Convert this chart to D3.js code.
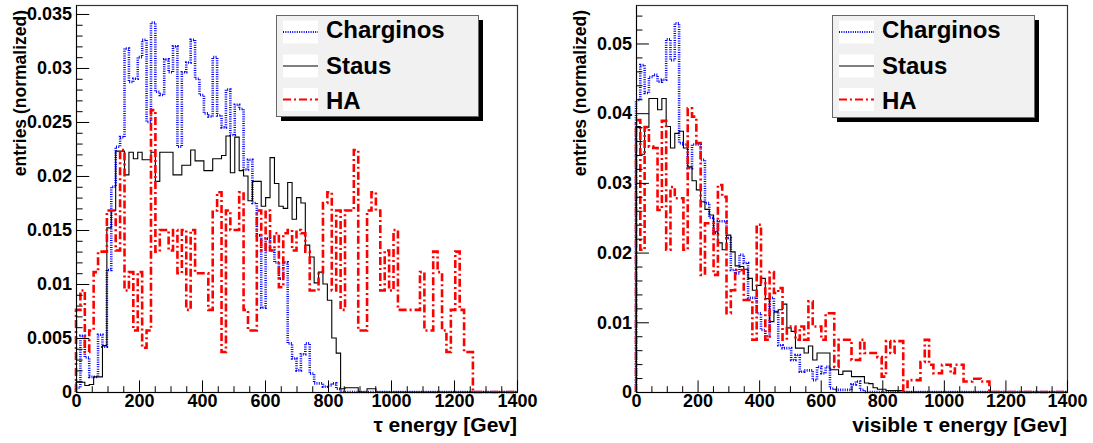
<!DOCTYPE html>
<meta charset="UTF-8">
<script src="https://d3js.org/d3.v7.min.js"></script>
<style>
body { margin: 0; background: #fff; }
text { font-family: "Liberation Sans", Arial, Helvetica, sans-serif; font-weight: bold; }
</style>
<body>
<div id="mysvg"></div>
<script>

// histogram binning: 100 bins of 14 GeV from 0 to 1400
var eMax = 1400;
var binWidth = 14;

var seriesNames = ["Charginos", "Staus", "HA"];

// tau energy (left pad)
var chargTau = [0.0004,0.0052,0.0032,0.0014,0.0014,0.0053,0.0042,0.0113,0.0190,0.0227,
  0.0236,0.0318,0.0287,0.0290,0.0310,0.0326,0.0250,0.0342,0.0278,0.0275,
  0.0308,0.0296,0.0320,0.0227,0.0296,0.0305,0.0326,0.0290,0.0275,0.0258,
  0.0255,0.0310,0.0256,0.0245,0.0280,0.0238,0.0266,0.0262,0.0206,0.0215,
  0.0175,0.0145,0.0078,0.0142,0.0131,0.0120,0.0105,0.0120,0.0045,0.0031,
  0.0020,0.0035,0.0045,0.0017,0.0008,0.0008,0.0005,0.0006,0.0008,0.0003,
  0,0,0,0,0,0,0,0,0,0, 0,0,0,0,0,0,0,0,0,0, 0,0,0,0,0,0,0,0,0,0, 0,0,0,0,0,0,0,0,0,0];
var stauTau = [0.0009,0.0009,0.0006,0.0007,0.0014,0.0014,0.0043,0.0152,0.0168,0.0223,
  0.0223,0.0201,0.0222,0.0216,0.0222,0.0215,0.0215,0.0222,0.0195,0.0222,
  0.0222,0.0222,0.0201,0.0201,0.0210,0.0210,0.0224,0.0214,0.0214,0.0205,
  0.0205,0.0216,0.0216,0.0219,0.0237,0.0203,0.0236,0.0205,0.0200,0.0177,
  0.0195,0.0195,0.0172,0.0180,0.0217,0.0193,0.0172,0.0170,0.0194,0.0160,
  0.0180,0.0175,0.0136,0.0125,0.0101,0.0111,0.0100,0.0085,0.0050,0.0036,
  0.0003,0.0004,0.0004,0.0004,0,0,0.0003,0.0003,0,0,
  0,0,0,0,0,0,0,0,0,0, 0,0,0,0,0,0,0,0,0,0, 0,0,0,0,0,0,0,0,0,0];
var haTau = [0.0076,0.0094,0.0037,0.0057,0.0111,0.0130,0.0130,0.0168,0.0168,0.0131,
  0.0224,0.0094,0.0111,0.0057,0.0111,0.0041,0.0057,0.0261,0.0130,0.0150,
  0.0150,0.0131,0.0150,0.0110,0.0150,0.0076,0.0150,0.0110,0.0110,0.0110,
  0.0076,0.0168,0.0185,0.0037,0.0168,0.0150,0.0150,0.0185,0.0076,0.0057,
  0.0057,0.0168,0.0131,0.0168,0.0131,0.0147,0.0097,0.0147,0.0150,0.0131,
  0.0150,0.0147,0.0130,0.0094,0.0094,0.0111,0.0175,0.0185,0.0094,0.0168,
  0.0076,0.0168,0.0168,0.0224,0.0057,0.0057,0.0168,0.0185,0.0168,0.0094,
  0.0131,0.0094,0.0150,0.0076,0.0076,0.0076,0.0076,0.0076,0.0111,0.0057,
  0.0057,0.0130,0.0111,0.0057,0.0037,0.0076,0.0130,0.0076,0.0037,0.0037,
  0,0,0,0,0,0,0,0,0,0];

// visible tau energy (right pad)
var chargVis = [0.0419,0.0469,0.0429,0.0452,0.0455,0.0445,0.0448,0.0506,0.0476,0.0529,
  0.0357,0.0355,0.0321,0.0355,0.0355,0.0333,0.0271,0.0250,0.0228,0.0245,
  0.0245,0.0221,0.0175,0.0170,0.0197,0.0185,0.0135,0.0135,0.0113,0.0089,
  0.0080,0.0135,0.0115,0.0067,0.0063,0.0063,0.0046,0.0053,0.0029,0.0031,
  0.0031,0.0017,0.0036,0.0027,0.0036,0.0005,0.0003,0.0003,0.0003,0.0003,
  0.0011,0.0015,0.0003,0,0,0,0,0,0,0,
  0,0,0,0,0,0,0,0,0,0, 0,0,0,0,0,0,0,0,0,0, 0,0,0,0,0,0,0,0,0,0, 0,0,0,0,0,0,0,0,0,0];
var stauVis = [0.0381,0.0341,0.0380,0.0421,0.0421,0.0405,0.0421,0.0381,0.0350,0.0371,
  0.0374,0.0350,0.0323,0.0303,0.0290,0.0273,0.0262,0.0254,0.0230,0.0214,
  0.0204,0.0225,0.0201,0.0181,0.0180,0.0176,0.0163,0.0146,0.0153,0.0163,
  0.0134,0.0101,0.0115,0.0118,0.0126,0.0092,0.0087,0.0063,0.0063,0.0056,
  0.0066,0.0046,0.0056,0.0056,0.0056,0.0032,0.0032,0.0025,0.0030,0.0030,
  0.0022,0.0022,0.0022,0.0013,0.0012,0.0006,0.0004,0.0004,0.0002,0.0002,
  0.0002,0.0002,0,0,0,0,0,0,0,0,
  0,0,0,0,0,0,0,0,0,0, 0,0,0,0,0,0,0,0,0,0, 0,0,0,0,0,0,0,0,0,0];
var haVis = [0.0390,0.0204,0.0380,0.0352,0.0350,0.0261,0.0389,0.0204,0.0294,0.0278,
  0.0278,0.0204,0.0407,0.0395,0.0357,0.0168,0.0242,0.0242,0.0168,0.0297,
  0.0280,0.0113,0.0146,0.0175,0.0175,0.0132,0.0132,0.0075,0.0240,0.0156,
  0.0075,0.0172,0.0142,0.0149,0.0075,0.0094,0.0094,0.0075,0.0094,0.0075,
  0.0130,0.0094,0.0094,0.0075,0.0113,0.0113,0.0036,0.0075,0.0075,0.0075,
  0.0046,0.0046,0.0075,0.0056,0.0056,0.0056,0.0050,0.0022,0.0073,0.0056,
  0.0073,0.0073,0,0.0017,0.0017,0.0017,0.0043,0.0075,0.0039,0.0027,
  0.0027,0.0039,0.0039,0.0027,0.0039,0.0039,0.0015,0.0015,0.0019,0.0019,
  0.0015,0.0015,0,0,0,0,0,0,0,0,
  0,0,0,0,0,0,0,0,0,0];

// axis ticks and labels
var xTicks = [0, 200, 400, 600, 800, 1000, 1200, 1400];
var yTicksTau = [0, 0.005, 0.01, 0.015, 0.02, 0.025, 0.03, 0.035];
var yLabelsTau = ["0", "0.005", "0.01", "0.015", "0.02", "0.025", "0.03", "0.035"];
var yTicksVis = [0, 0.01, 0.02, 0.03, 0.04, 0.05];
var yLabelsVis = ["0", "0.01", "0.02", "0.03", "0.04", "0.05"];

var colors = ["#0000ff", "#000000", "#ff0000"];
var widths = [2.6, 1.1, 2.6];
var dashes = ["1,1.3", null, "8,3,2,3"];

var frameTop = 5, frameBottom = 392;

var pads = [
  { left: 76, right: 517, yMax: 0.03583, yTicks: yTicksTau, yLabels: yLabelsTau, minorStep: 0.001, nMinor: 36,
    series: [chargTau, stauTau, haTau], xTitle: "\u03c4 energy [Gev]", yTitleX: 25.5,
    legend: { x: 276, w: 202, h: 101 } },
  { left: 636, right: 1067, yMax: 0.05552, yTicks: yTicksVis, yLabels: yLabelsVis, minorStep: 0.002, nMinor: 28,
    series: [chargVis, stauVis, haVis], xTitle: "visible \u03c4 energy [Gev]", yTitleX: 585.5,
    legend: { x: 832, w: 202, h: 102 } }
];

var svg = d3.select("#mysvg")
  .append("svg")
    .attr("width", 1093)
    .attr("height", 443);

svg.append("rect").attr("width", 1093).attr("height", 443).attr("fill", "white");

pads.forEach(function(p) {
  var x = d3.scaleLinear().domain([0, eMax]).range([p.left, p.right]);
  var y = d3.scaleLinear().domain([0, p.yMax]).range([frameBottom, frameTop]);

  // frame
  svg.append("rect")
    .attr("x", p.left + 0.5).attr("y", frameTop + 0.5)
    .attr("width", p.right - p.left).attr("height", frameBottom - frameTop)
    .attr("fill", "white").attr("stroke", "#333").attr("stroke-width", 1.2);

  // histograms as steps
  var line = d3.line()
    .x(function(d) { return x(d[0]); })
    .y(function(d) { return y(d[1]); });

  p.series.forEach(function(vals, k) {
    var pts = [[0, 0]];
    vals.forEach(function(v, i) {
      pts.push([i * binWidth, v]);
      pts.push([(i + 1) * binWidth, v]);
    });
    pts.push([eMax, 0]);
    var path = svg.append("path")
      .attr("d", line(pts))
      .attr("fill", "none")
      .attr("stroke", colors[k])
      .attr("stroke-width", widths[k]);
    if (dashes[k]) path.attr("stroke-dasharray", dashes[k]);
  });

  // y axis
  var yMinor = d3.range(p.nMinor).map(function(i) { return i * p.minorStep; })
    .filter(function(d, i) { return i % 5 != 0; });
  var gy = svg.append("g").attr("transform", "translate(" + p.left + ",0)");
  gy.call(d3.axisLeft(y).tickValues(p.yTicks).tickSizeInner(-(0.03 * (p.right - p.left))).tickSizeOuter(0)
      .tickPadding(4).tickFormat(function(d, i) { return p.yLabels[i]; }));
  gy.append("g").call(d3.axisLeft(y).tickValues(yMinor).tickSize(-(0.015 * (p.right - p.left))).tickFormat(""))
    .select(".domain").remove();
  gy.selectAll("text").attr("font-size", 18).attr("fill", "black");
  gy.selectAll("line").attr("stroke", "black");
  gy.select(".domain").attr("stroke", "black");

  // x axis
  var xMinor = d3.range(0, eMax + 1, 50).filter(function(d) { return d % 200 != 0; });
  var gx = svg.append("g").attr("transform", "translate(0," + frameBottom + ")");
  gx.call(d3.axisBottom(x).tickValues(xTicks).tickSizeInner(-11.6).tickSizeOuter(0).tickPadding(2)
      .tickFormat(d3.format("d")));
  gx.append("g").call(d3.axisBottom(x).tickValues(xMinor).tickSize(-5.8).tickFormat(""))
    .select(".domain").remove();
  gx.selectAll("text").attr("font-size", 18).attr("fill", "black");
  gx.selectAll("line").attr("stroke", "black");
  gx.select(".domain").attr("stroke", "black");

  // axis titles
  svg.append("text")
    .attr("x", p.right).attr("y", 432)
    .attr("text-anchor", "end")
    .attr("font-size", 21)
    .text(p.xTitle);
  svg.append("text")
    .attr("transform", "translate(" + p.yTitleX + ",10) rotate(-90)")
    .attr("text-anchor", "end")
    .attr("font-size", 17.5)
    .text("entries (normalized)");

  // legend
  var L = p.legend;
  svg.append("rect").attr("x", L.x + 5).attr("y", 20).attr("width", L.w).attr("height", L.h).attr("fill", "black");
  svg.append("rect").attr("x", L.x + 0.5).attr("y", 15.5).attr("width", L.w).attr("height", L.h)
    .attr("fill", "#f1f1f1").attr("stroke", "#666").attr("stroke-width", 1);
  var rowY = [32, 66, 99.5];
  var baseY = [38, 73.5, 109];
  seriesNames.forEach(function(name, k) {
    svg.append("rect").attr("x", L.x + 7).attr("y", rowY[k] - 11.5).attr("width", 35).attr("height", 23).attr("fill", "white");
    var s = svg.append("line")
      .attr("x1", L.x + 7).attr("x2", L.x + 42)
      .attr("y1", rowY[k]).attr("y2", rowY[k])
      .attr("stroke", colors[k]).attr("stroke-width", k == 1 ? 1.2 : 2);
    if (dashes[k]) s.attr("stroke-dasharray", dashes[k]);
    svg.append("text")
      .attr("x", L.x + 50).attr("y", baseY[k])
      .attr("font-size", 24)
      .text(name);
  });
});

</script>
</body>
